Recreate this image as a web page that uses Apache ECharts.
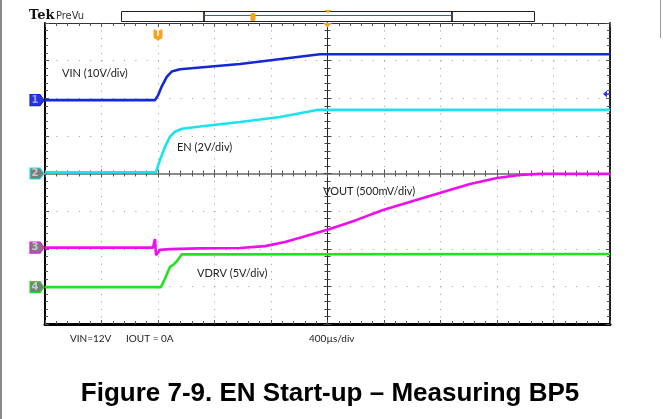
<!DOCTYPE html>
<html><head><meta charset="utf-8">
<script src="https://cdn.jsdelivr.net/npm/echarts@6/dist/echarts.min.js"></script>
<style>html,body{margin:0;padding:0;background:#fff}#c{width:663px;height:419px}</style>
</head><body><div id="c"></div>
<script>
// Time in µs (400 µs/div, trigger at 0), amplitude in screen divisions (center = 0)
const vinT  = [-2000,-1221,-1198,-1174,-1138,-1103,-1044,-619,-53,20,2000];
const vinV  = [1.95,1.95,2.09,2.31,2.57,2.71,2.77,2.91,3.17,3.17,3.17];
const enT   = [-2000,-1214,-1186,-1150,-1115,-1080,-1030,-903,-619,-336,-74,18,2000];
const enV   = [0.03,0.04,0.36,0.71,0.98,1.11,1.19,1.25,1.37,1.50,1.69,1.69,1.69];
const voutT = [-2000,-1235,-1221,-1214,-1186,-1115,-903,-619,-442,-301,-195,11,202,393,605,818,1009,1200,1363,1504,2000];
const voutV = [-1.97,-1.97,-1.74,-2.17,-2.03,-2.01,-1.99,-1.98,-1.93,-1.82,-1.71,-1.48,-1.24,-0.97,-0.73,-0.49,-0.28,-0.12,-0.04,-0.01,-0.01];
const vdrvT = [-2000,-1179,-1150,-1115,-1092,-1068,-1032,2000];
const vdrvV = [-3.02,-3.02,-2.79,-2.48,-2.43,-2.34,-2.15,-2.14];
const chNames = ['VIN (10V/div)','EN (2V/div)','VOUT (500mV/div)','VDRV (5V/div)'];
const chOffsets = [1.95,0.0,-1.97,-3.02];
const chColors = ['#1428d4','#19e3ee','#f00cf0','#22e022'];
const xTicks = {min:-2000,max:2000,interval:400};
const yTicks = {min:-4,max:4,interval:1};
const triggerT = -1200;
const ch1Level = 2.11;

const zip = (t,v)=>t.map((x,i)=>[x,v[i]]);
const chart = echarts.init(document.getElementById('c'), null, {renderer:'canvas'});

const baseX = {type:'value', min:xTicks.min, max:xTicks.max, interval:xTicks.interval,
  axisLabel:{show:false}, splitLine:{show:false}};
const baseY = {type:'value', min:yTicks.min, max:yTicks.max, interval:yTicks.interval,
  axisLabel:{show:false}, splitLine:{show:false}};
const tickStyle = (inside, len, color)=>({
  axisTick:{show:true, inside:inside, length:len, lineStyle:{color:color,width:1}},
  minorTick:{show:true, splitNumber:5, length:len-1, lineStyle:{color:color,width:1}}
});

const option = {
  animation:false,
  backgroundColor:'#fff',
  grid:{left:45, top:23, right:53, bottom:95, outerBoundsMode:'none', containLabel:false},
  xAxis:[
    Object.assign({}, baseX, {position:'bottom', axisLine:{onZero:false, lineStyle:{color:'#000',width:3}},
      splitLine:{show:true, lineStyle:{color:'#9a9a9a', width:1, type:[1,6.525]}}}, tickStyle(true,4,'#555')),
    Object.assign({}, baseX, {position:'top', axisLine:{onZero:false, lineStyle:{color:'#333',width:1}}}, tickStyle(true,4,'#555')),
    Object.assign({}, baseX, {position:'bottom', axisLine:{onZero:true, onZeroAxisIndex:0, lineStyle:{color:'#8c8c8c',width:2}}}, tickStyle(true,4,'#555')),
    Object.assign({}, baseX, {position:'bottom', axisLine:{onZero:true, onZeroAxisIndex:0, lineStyle:{color:'#8c8c8c',width:2}}}, tickStyle(false,4,'#555'))
  ],
  yAxis:[
    Object.assign({}, baseY, {position:'left', axisLine:{onZero:false, lineStyle:{color:'#000',width:2}},
      splitLine:{show:true, lineStyle:{color:'#9a9a9a', width:1, type:[1,10.3]}}}, tickStyle(true,4,'#555')),
    Object.assign({}, baseY, {position:'right', axisLine:{onZero:false, lineStyle:{color:'#222',width:2}}}, tickStyle(true,4,'#555')),
    Object.assign({}, baseY, {position:'left', axisLine:{onZero:true, onZeroAxisIndex:0, lineStyle:{color:'#222',width:1}}}, tickStyle(true,4,'#444')),
    Object.assign({}, baseY, {position:'left', axisLine:{onZero:true, onZeroAxisIndex:0, lineStyle:{color:'#222',width:1}}}, tickStyle(false,4,'#444'))
  ],
  series:[
    {name:chNames[0], type:'line', data:zip(vinT,vinV)},
    {name:chNames[1], type:'line', data:zip(enT,enV)},
    {name:chNames[2], type:'line', data:zip(voutT,voutV)},
    {name:chNames[3], type:'line', data:zip(vdrvT,vdrvV)}
  ].map((s,i)=>Object.assign(s,{xAxisIndex:0,yAxisIndex:0,showSymbol:false,symbol:'none',smooth:false,z:5,
      lineStyle:{color:chColors[i],width:2.6}, itemStyle:{color:chColors[i]}}))
};
chart.setOption(option);

const px = (t,v)=>chart.convertToPixel({gridIndex:0},[t,v]);
const g = [];
const txt = (x,y,s,opt)=>g.push({type:'text',x:x,y:y,silent:true,style:Object.assign({text:s,fill:'#222',font:'11px Lato',textVerticalAlign:'middle'},opt||{})});

// page borders
g.push({type:'line',shape:{x1:1,y1:0,x2:1,y2:419},style:{stroke:'#8a8a8a',lineWidth:2}});
g.push({type:'line',shape:{x1:660.5,y1:0,x2:660.5,y2:38},style:{stroke:'#9a9a9a',lineWidth:1}});

// channel markers
const markFill = ['#2a36d8','#7d7d7d','#7d7d7d','#7d7d7d'];
chOffsets.forEach((v,i)=>{
  const y = px(xTicks.min, v)[1];
  const x0 = 30;
  g.push({type:'polygon',shape:{points:[[x0,y-5.5],[x0+10,y-5.5],[x0+14,y],[x0+10,y+5.5],[x0,y+5.5]]},
    style:{fill:markFill[i],stroke:chColors[i],lineWidth:1.2},z:10});
  g.push({type:'text',x:x0+5,y:y,z:11,style:{text:String(i+1),fill:i===0?'#9aa0ff':'#c8c8c8',font:'bold 10px "DejaVu Sans"',textAlign:'center',textVerticalAlign:'middle'}});
});

// ch1 level arrow at right
{
  const p = px(xTicks.max, ch1Level);
  g.push({type:'polygon',shape:{points:[[p[0]-7,p[1]],[p[0]-3,p[1]-3.5],[p[0]-3,p[1]+3.5]]},style:{fill:'#2a36e8'},z:10});
  g.push({type:'line',shape:{x1:p[0]-4,y1:p[1],x2:p[0],y2:p[1]},style:{stroke:'#2a36e8',lineWidth:1.5},z:10});
}

// trigger marker T
{
  const p = px(triggerT, yTicks.max);
  const x = p[0], y = p[1];
  g.push({type:'rect',shape:{x:x-4.5,y:y+6,width:9,height:10,r:2},style:{fill:'#f7a21b'},z:10});
  g.push({type:'polygon',shape:{points:[[x-3,y+15],[x+3,y+15],[x,y+18]]},style:{fill:'#f7a21b'},z:10});
  g.push({type:'text',x:x,y:y+11,z:11,style:{text:'T',fill:'#fff',font:'bold 8px "DejaVu Sans"',textAlign:'center',textVerticalAlign:'middle'}});
  const c = px(0, yTicks.max);
  g.push({type:'polygon',shape:{points:[[c[0]-4.5,c[1]],[c[0]+4.5,c[1]],[c[0],c[1]+4.5]]},style:{fill:'#f7a21b'},z:10});
}

// record view bar
g.push({type:'rect',shape:{x:121.5,y:11.5,width:413,height:10},style:{fill:'none',stroke:'#222',lineWidth:1}});
g.push({type:'line',shape:{x1:204,y1:11,x2:204,y2:22},style:{stroke:'#000',lineWidth:1.5}});
g.push({type:'line',shape:{x1:452,y1:11,x2:452,y2:22},style:{stroke:'#000',lineWidth:1.5}});
g.push({type:'line',shape:{x1:204,y1:15.5,x2:452,y2:15.5},style:{stroke:'#3c4fe0',lineWidth:1}});
g.push({type:'rect',shape:{x:250.5,y:13,width:5,height:8,r:1.5},style:{fill:'#f7a21b'},z:10});
g.push({type:'polygon',shape:{points:[[324.5,10],[331.5,10],[328,13.5]]},style:{fill:'#f7a21b'},z:10});

// Tek PreVu
txt(29,16,'Tek',{font:'bold 13px "DejaVu Serif"',fill:'#111'});
txt(56,16,'PreVu',{font:'11px "DejaVu Sans Condensed", "DejaVu Sans"',fill:'#333'});

// channel labels
txt(62,73,chNames[0]);
txt(177,147,chNames[1]);
txt(323,191,chNames[2]);
txt(197,273,chNames[3]);

// bottom readouts
txt(70,339,'VIN=12V',{font:'10px Lato'});
txt(126,339,'IOUT = 0A',{font:'10px Lato'});
txt(309,339,'400µs/div',{font:'10px Lato'});

// caption
txt(330,394,'Figure 7-9. EN Start-up – Measuring BP5',{font:'bold 26px "Liberation Sans"',fill:'#000',textAlign:'center'});

chart.setOption({graphic:{elements:g}});
</script></body></html>
